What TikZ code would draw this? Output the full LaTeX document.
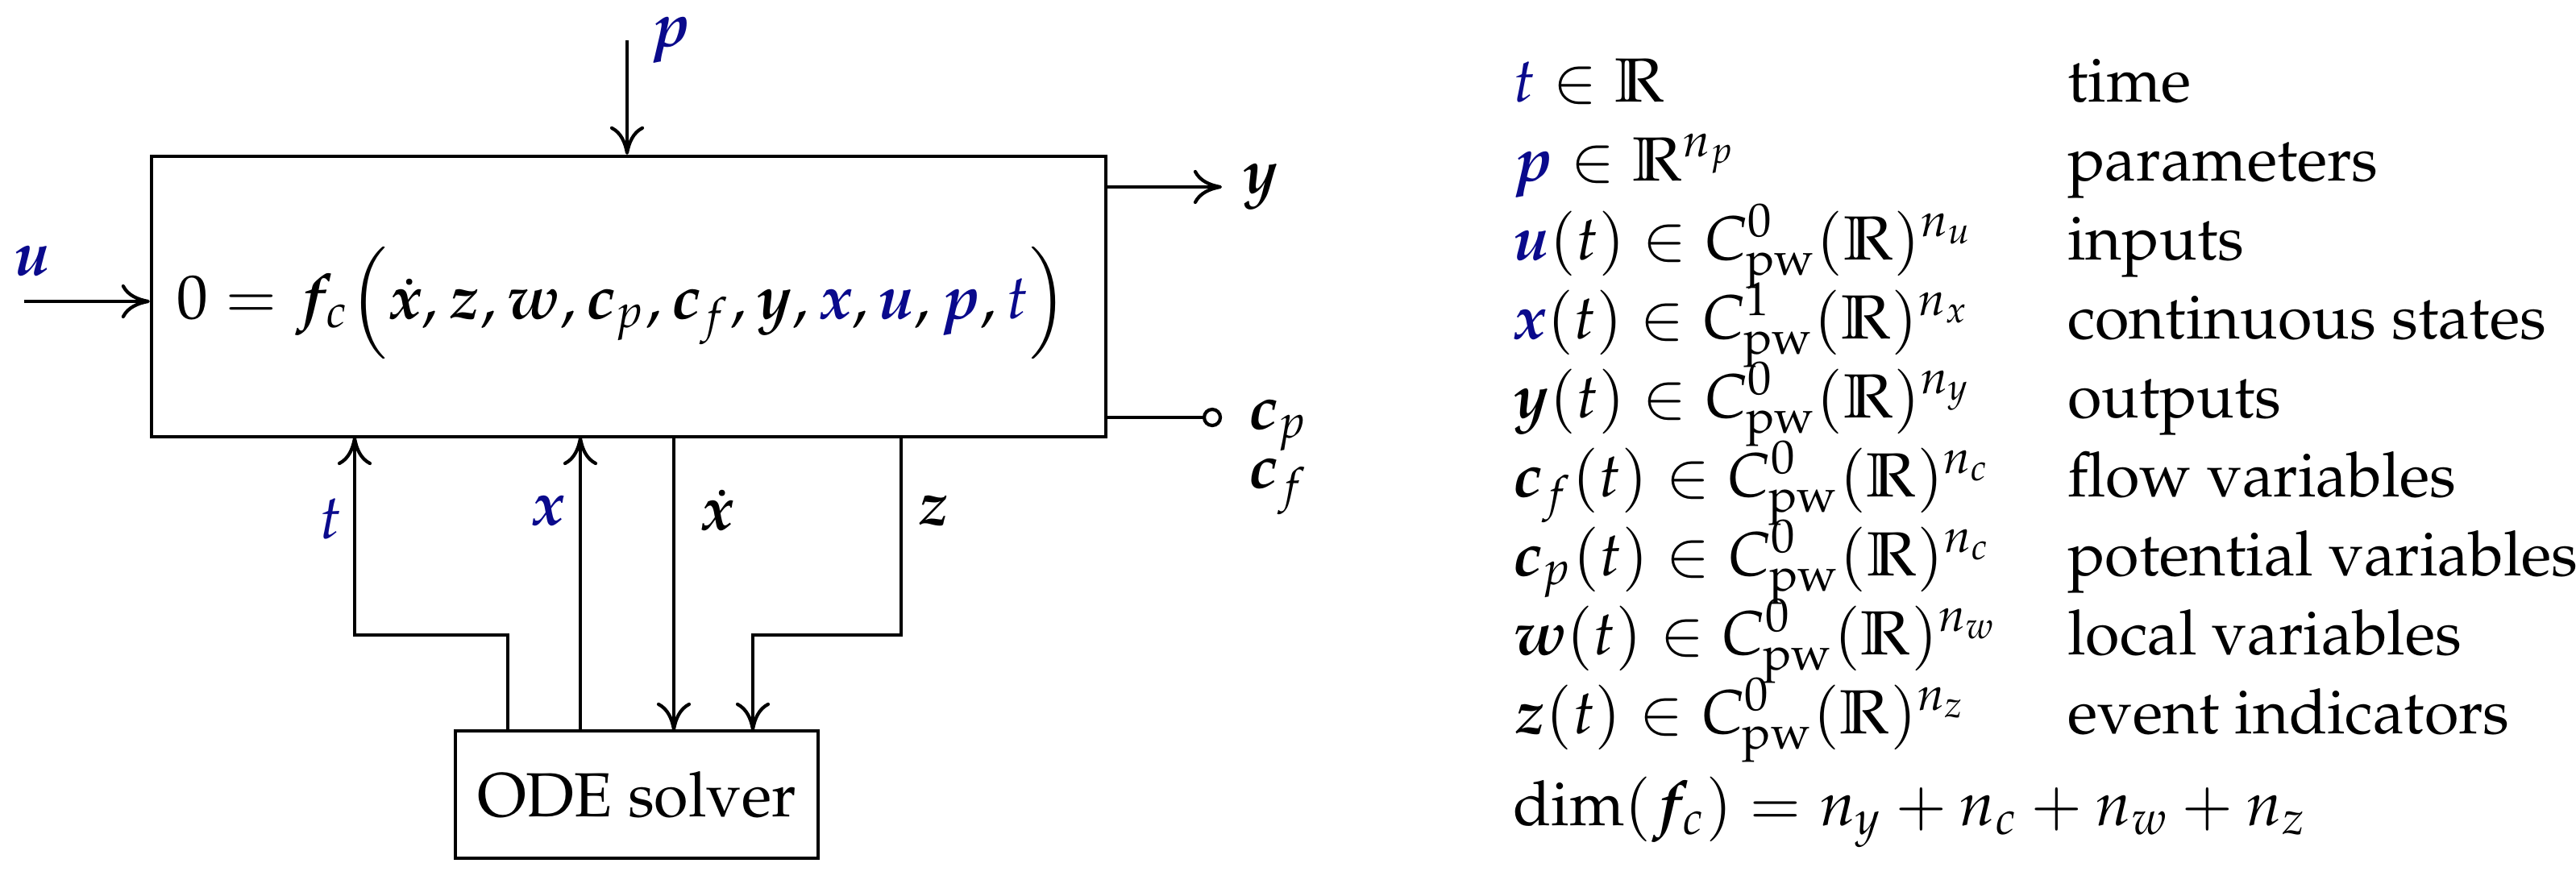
\documentclass[tikz,border=0pt]{standalone}
\usepackage[T1]{fontenc}
\usepackage{amsmath,amssymb}
\usepackage{mathpazo}
\usepackage{bm}
\usetikzlibrary{arrows.meta}
\definecolor{nb}{RGB}{10,10,140}
\newcommand{\bb}[1]{\boldsymbol{#1}}
\newcommand{\cb}[1]{\textcolor{nb}{#1}}
\begin{document}
\begin{tikzpicture}[x=1cm,y=1cm,font=\fontsize{11}{13}\selectfont,
  box/.style={draw,line width=0.6pt,inner sep=0},
  ln/.style={line width=0.6pt},
  ar/.style={ln,-{To[length=5pt,width=6pt]}},
  lbl/.style={inner sep=0,anchor=base west}]
\useasboundingbox (0,0) rectangle (15.98,-5.485);
\node[box,minimum width=5.92cm,minimum height=1.74cm] (F) at (3.90,-1.84) {};
\node at (3.86,-1.88) {$0=\bb{f}_c\Big(\dot{\bb x},\bb z,\bb w,\bb c_p,\bb c_f,\bb y,\cb{\bb x},\cb{\bb u},\cb{\bb p},\cb{t}\Big)$};
\node[box,minimum width=2.25cm,minimum height=0.79cm] (O) at (3.95,-4.93) {ODE solver};
% p
\coordinate (ps) at (3.89,-0.25);
\draw[ar] (ps) -- (ps|-F.north);
\node at (4.16,-0.25) {$\cb{\bb p}$};
% u
\coordinate (us) at (0.15,-1.87);
\draw[ar] (us) -- (F.west|-us);
\node at (0.2,-1.62) {$\cb{\bb u}$};
% y
\coordinate (ye) at (7.58,-1.16);
\draw[ar] (F.east|-ye) -- (ye);
\node at (7.82,-1.16) {$\bb y$};
% c
\coordinate (ce) at (7.47,-2.59);
\draw[ln] (F.east|-ce) -- (ce);
\draw[ln,fill=white] (7.52,-2.59) circle (0.05);
\node at (7.93,-2.64) {$\bb c_p$};
\node at (7.93,-3.02) {$\bb c_f$};
% t
\draw[ar] (3.15,-4.535) |- (2.20,-3.94) -- (2.20,-2.71);
\node at (2.05,-3.22) {$\cb{t}$};
% x
\draw[ar] (3.60,-4.535) -- (3.60,-2.71);
\node at (3.40,-3.17) {$\cb{\bb x}$};
% xdot
\draw[ar] (4.18,-2.71) -- (4.18,-4.535);
\node at (4.45,-3.17) {$\dot{\bb x}$};
% z
\draw[ar] (5.59,-2.71) |- (4.67,-3.94) -- (4.67,-4.535);
\node at (5.79,-3.17) {$\bb z$};
% right column
\foreach \i/\a/\b in {
 0/{$\cb{t}\in\mathbb{R}$}/time,
 1/{$\cb{\bb p}\in\mathbb{R}^{n_p}$}/parameters,
 2/{$\cb{\bb u}(t)\in C^0_{\mathrm{pw}}(\mathbb{R})^{n_u}$}/inputs,
 3/{$\cb{\bb x}(t)\in C^1_{\mathrm{pw}}(\mathbb{R})^{n_x}$}/continuous states,
 4/{$\bb y(t)\in C^0_{\mathrm{pw}}(\mathbb{R})^{n_y}$}/outputs,
 5/{$\bb c_f(t)\in C^0_{\mathrm{pw}}(\mathbb{R})^{n_c}$}/flow variables,
 6/{$\bb c_p(t)\in C^0_{\mathrm{pw}}(\mathbb{R})^{n_c}$}/potential variables,
 7/{$\bb w(t)\in C^0_{\mathrm{pw}}(\mathbb{R})^{n_w}$}/local variables,
 8/{$\bb z(t)\in C^0_{\mathrm{pw}}(\mathbb{R})^{n_z}$}/event indicators}{
 \node[lbl] (L\i) at (9.38,-0.63-0.49*\i) {\a};
 \node[lbl] (R\i) at (12.82,-0.63-0.49*\i) {\b};
}
\node[lbl] (D) at (9.38,-5.12) {$\dim(\bb f_c)=n_y+n_c+n_w+n_z$};
\end{tikzpicture}
\end{document}
